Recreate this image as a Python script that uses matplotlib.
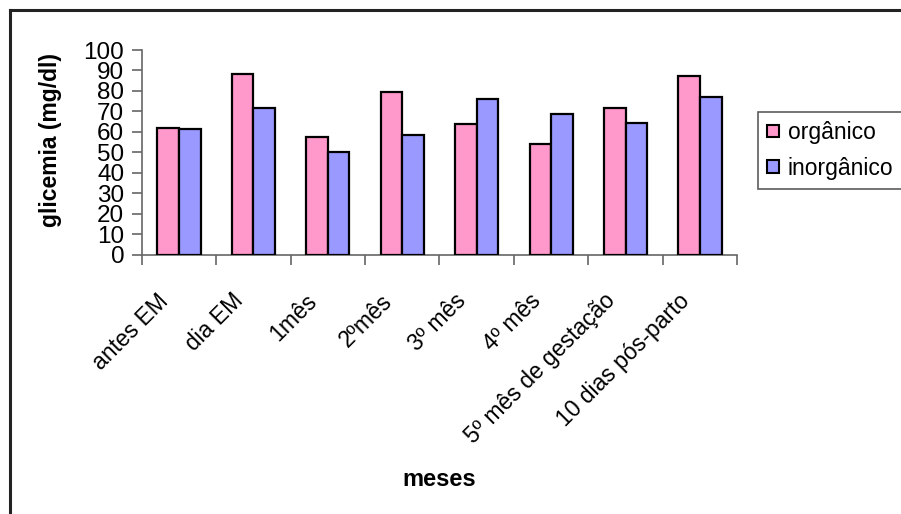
import matplotlib
matplotlib.use("Agg")
import matplotlib.pyplot as plt
import numpy as np
from matplotlib.lines import Line2D
from matplotlib.transforms import ScaledTranslation

plt.rcParams['font.family'] = ['Liberation Sans', 'DejaVu Sans']

categories = ["antes EM", "dia EM", "1mês", "2ºmês", "3º mês", "4º mês",
              "5º mês de gestação", "10 dias pós-parto"]
organico = [62.1, 88.2, 57.5, 79.7, 63.9, 53.9, 71.4, 87.1]
inorganico = [61.3, 71.4, 50.2, 58.5, 76.0, 68.6, 64.1, 77.0]
series_names = ["orgânico", "inorgânico"]
yticks = list(range(0, 101, 10))

W, H = 901, 514
fig = plt.figure(figsize=(W / 100, H / 100), dpi=100)
ax = fig.add_axes([141.7 / W, 1 - 254.5 / H, (737.3 - 141.7) / W, (254.5 - 50) / H])

x = np.arange(len(categories))
bw = 0.29
ax.bar(x - bw / 2, organico, bw, color="#FF99CC", edgecolor="black", linewidth=1.6,
       label=series_names[0], zorder=3)
ax.bar(x + bw / 2, inorganico, bw, color="#9999FF", edgecolor="black", linewidth=1.6,
       label=series_names[1], zorder=3)

ax.set_xlim(-0.5, len(categories) - 0.5)
ax.set_ylim(0, 100)
ax.set_yticks(yticks)
ax.set_yticklabels([str(t) for t in yticks], fontsize=17.5)
ax.set_xticks(np.arange(len(categories) + 1) - 0.5, minor=False)
ax.set_xticklabels([])
ax.set_xticks(x, minor=True)
ax.set_xticklabels(categories, minor=True, rotation=45, ha="right", va="center",
                   rotation_mode="anchor", fontsize=16.5)
ax.tick_params(axis="x", which="minor", length=0, pad=0)
ax.tick_params(axis="x", which="major", length=7, width=1.2, color="#666666")
ax.tick_params(axis="y", length=7, width=1.2, color="#666666", pad=5.5)

# rotated category labels sit down-left of each category centre
shift = ScaledTranslation(-0.14, -0.43, fig.dpi_scale_trans)
for lbl in ax.get_xticklabels(minor=True):
    lbl.set_transform(lbl.get_transform() + shift)

for s in ["top", "right"]:
    ax.spines[s].set_visible(False)
for s in ["left", "bottom"]:
    ax.spines[s].set_color("#666666")
    ax.spines[s].set_linewidth(1.2)

fig.text(51 / W, 1 - 140 / H, "glicemia (mg/dl)", fontsize=16.5, fontweight="bold",
         rotation=90, ha="center", va="center")
fig.text(439 / W, 1 - 479 / H, "meses", fontsize=17, fontweight="bold",
         ha="center", va="center")

leg = ax.legend(loc="upper left", bbox_to_anchor=(758 / W, 1 - 112 / H),
                bbox_transform=fig.transFigure, fontsize=16.5, frameon=True,
                fancybox=False, handlelength=0.5, handleheight=0.45,
                handletextpad=0.4, borderpad=0.4, labelspacing=0.55, borderaxespad=0)
leg.get_frame().set_edgecolor("#333333")
leg.get_frame().set_linewidth(1.2)
for h in leg.legend_handles:
    h.set_linewidth(1.5)

# chart-area border (top and left edges visible)
fig.add_artist(Line2D([10 / W, 10 / W], [0, 1 - 10 / H], transform=fig.transFigure,
                      color="#222222", linewidth=2.2))
fig.add_artist(Line2D([10 / W, 1], [1 - 10 / H, 1 - 10 / H], transform=fig.transFigure,
                      color="#222222", linewidth=2.2))

fig.savefig("out.png", dpi=100)
